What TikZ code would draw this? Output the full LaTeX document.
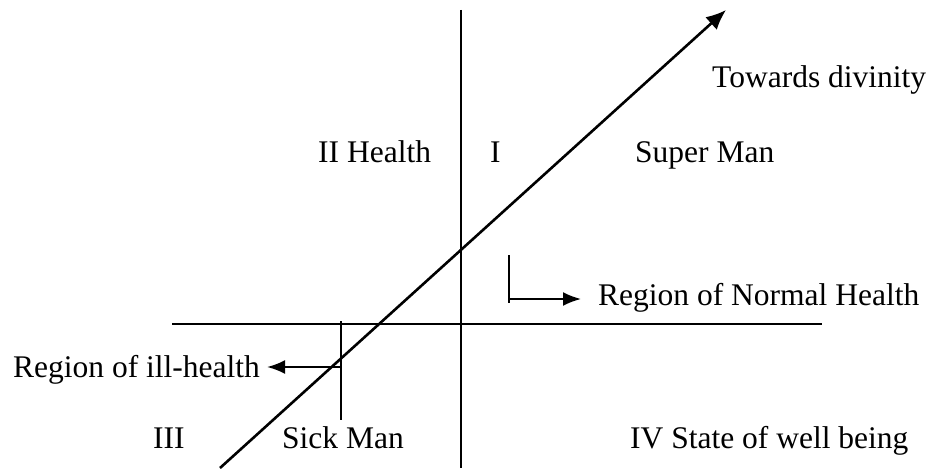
\documentclass[tikz,border=0pt]{standalone}
\usepackage{fontspec}
\setmainfont{Liberation Serif}
\usepackage{tikz}
\usetikzlibrary{arrows.meta,positioning,calc}

\begin{document}
\begin{tikzpicture}[x=1pt,y=-1pt,line cap=butt,
  axis/.style={draw=black,line width=1.7pt},
  tick/.style={draw=black,line width=1.7pt},
  arr/.style={draw=black,line width=2pt,-{Latex[length=18pt,width=14pt]}},
  lbl/.style={inner sep=0pt,anchor=base west,font=\fontsize{31.5}{38}\selectfont}]
  \useasboundingbox (0,0) rectangle (933,468);

  % axes
  \coordinate (vtop) at (461,10);
  \coordinate (vbot) at (461,468);
  \coordinate (hleft) at (172,324);
  \coordinate (hright) at (822,324);
  \draw[axis] (vtop) -- (vbot);
  \draw[axis] (hleft) -- (hright);

  % line towards divinity
  \coordinate (dstart) at (220,468);
  \coordinate (dend) at (726,10);
  \draw[arr,line width=2.6pt,-{Latex[length=20pt,width=17pt]}] (dstart) -- (dend);

  % labels
  \node[lbl] (divinity) at (712,88) {Towards divinity};
  \node[lbl] (health) at (318,162) {II Health};
  \node[lbl] (one) at (490,162) {I};
  \node[lbl] (superman) at (635,162) {Super Man};
  \node[lbl] (normal) at (598,305) {Region of Normal Health};
  \node[lbl] (ill) at (13,377) {Region of ill-health};
  \node[lbl] (three) at (153,448) {III};
  \node[lbl] (sickman) at (282,448) {Sick Man};
  \node[lbl] (wellbeing) at (630,448) {IV State of well being};

  % region of normal health
  \coordinate (ntop) at (509,255);
  \coordinate (nbot) at (509,303);
  \coordinate (ncorner) at (509,299);
  \draw[tick] (ntop) -- (nbot);
  \draw[arr] (ncorner) -- ($(normal.west |- ncorner)+(-17,0)$);

  % region of ill-health
  \coordinate (itop) at (341,321);
  \coordinate (ibot) at (341,420);
  \coordinate (imark) at (341,367);
  \draw[tick] (itop) -- (ibot);
  \draw[arr] (imark) -- ($(ill.east |- imark)+(7,0)$);
\end{tikzpicture}
\end{document}
